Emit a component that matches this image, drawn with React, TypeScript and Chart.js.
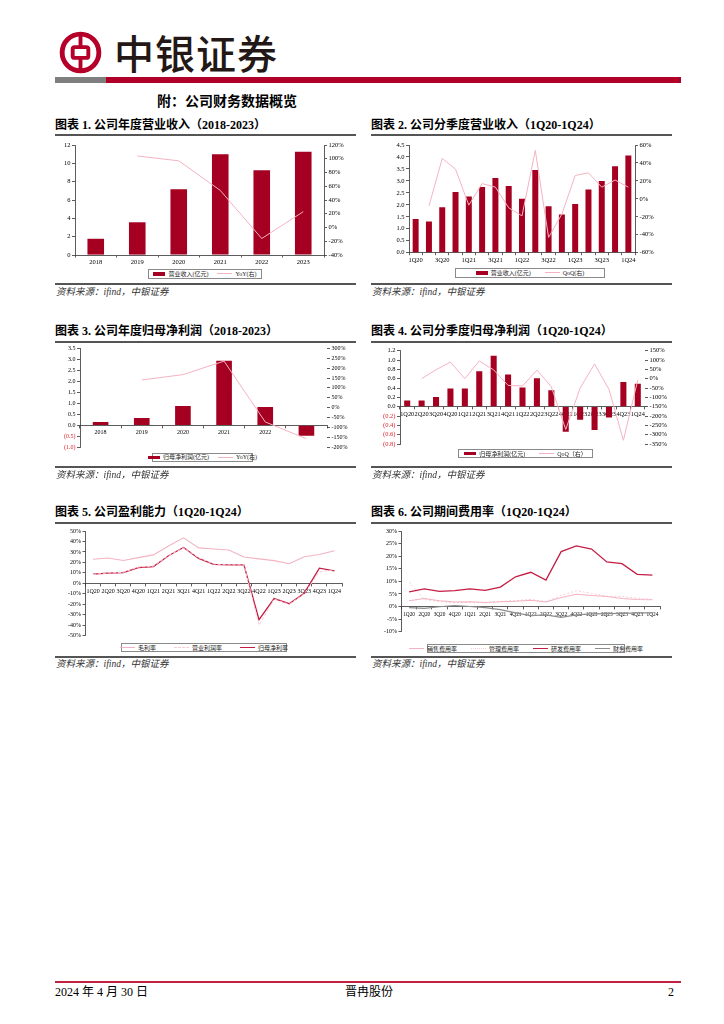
import React, { useEffect, useRef } from "react";
import { Chart, registerables } from "chart.js";

Chart.register(...registerables);

// ---------------- DATA ----------------
const years = ["2018", "2019", "2020", "2021", "2022", "2023"];
const quarters = ["1Q20", "2Q20", "3Q20", "4Q20", "1Q21", "2Q21", "3Q21", "4Q21", "1Q22", "2Q22", "3Q22", "4Q22", "1Q23", "2Q23", "3Q23", "4Q23", "1Q24"];

const annualRevenue = [1.77, 3.57, 7.16, 11.0, 9.25, 11.27];
const annualRevenueYoY = [null, 104, 97, 54, -16, 23];

const quarterlyRevenue = [1.41, 1.3, 1.9, 2.54, 2.35, 2.75, 3.12, 2.79, 2.25, 3.46, 1.94, 1.6, 2.04, 2.64, 3.0, 3.61, 4.06];
const quarterlyRevenueQoQ = [null, -8, 45, 33, -7, 17, 13, -10, -19, 54, -43, -17, 26, 29, 13, 21, 13];

const annualProfit = [0.15, 0.33, 0.88, 2.93, 0.83, -0.48];
const annualProfitYoY = [null, 140, 167, 235, -72, -157];

const quarterlyProfit = [0.13, 0.13, 0.21, 0.39, 0.39, 0.76, 1.09, 0.69, 0.41, 0.61, 0.35, -0.54, -0.28, -0.5, -0.23, 0.53, 0.49];
const quarterlyProfitQoQ = [null, 0, 48, 89, 0, 95, 47, -36, -39, 46, -43, -272, -50, 79, -57, -330, -7];

const grossMargin = [23, 24.2, 21.9, 24.6, 27.2, 35.7, 43.5, 33.9, 32.8, 31.9, 25.2, 23.4, 21.7, 18.8, 25.4, 27.5, 31.2];
const operatingMargin = [8.5, 10, 10.5, 15.5, 16.5, 26.5, 34, 24.5, 18.5, 17.5, 17.8, -40, -15, -20, -10, 11, 13];
const netMargin = [8.8, 9.8, 10.2, 15, 16, 26.4, 34.2, 23.8, 18.2, 17.6, 17.6, -34.7, -14.5, -19.4, -9.4, 14.5, 12];

const sellingExpRatio = [2.3, 3.2, 2.3, 1.8, 1.9, 1.6, 1.9, 2.1, 2.5, 1.8, 3.6, 4.9, 4.4, 4.0, 3.2, 2.8, 2.7];
const adminExpRatio = [9.7, 2.8, 2.0, 1.5, 1.7, 1.5, 2.0, 2.4, 2.8, 2.0, 4.4, 6.3, 5.2, 4.1, 4.0, 3.3, 2.8];
const rdExpRatio = [5.8, 7.0, 6.0, 6.3, 7.0, 6.4, 7.7, 11.8, 13.6, 10.5, 21.8, 24.1, 22.8, 17.7, 17.0, 12.8, 12.5];
const financeExpRatio = [-0.4, -0.7, -0.1, 0.4, 0.0, -0.4, -1.2, -2.5, -3.6, -3.3, -4.3, -3.3, -2.9, -2.8, -2.7, -2.5, -2.5];

// ---------------- STYLE ----------------
const NUM_FONT = "'Liberation Serif', 'Noto Sans CJK SC', serif";
const CJK_FONT = "'Liberation Serif', 'Noto Sans CJK SC', serif";
const BAR_RED = "#A50021";
const DARK_LINE = "#C41E45";
const PINK = "#F4B3C2";
const LIGHT_PINK = "#F6CCD5";
const GRAY_LINE = "#8E8E8E";
const AXIS = "#333333";
const NEG = "#E0202A";

type Fmt = (v: number) => string;

function catAxis(o: { height?: number; zero?: boolean; skipOdd?: boolean; size?: number; tick?: number; pad?: number }) {
  const ticks: any = {
    autoSkip: false,
    maxRotation: 0,
    minRotation: 0,
    padding: o.pad ?? 1,
    font: { family: NUM_FONT, size: o.size ?? 6.5 },
    color: "#000",
  };
  if (o.skipOdd) {
    ticks.callback = function (this: any, v: any, i: number) {
      return i % 2 === 0 ? this.getLabelForValue(v) : "";
    };
  }
  const axis: any = {
    type: "category",
    offset: true,
    position: o.zero ? { y: 0 } : "bottom",
    z: o.zero ? 1 : 0,
    border: { display: true, color: AXIS, width: 0.8 },
    grid: { display: true, drawOnChartArea: false, offset: true, tickLength: o.tick ?? 2.5, color: AXIS, lineWidth: 0.8 },
    ticks,
  };
  if (o.height != null) {
    const h = o.height;
    axis.afterFit = (s: any) => {
      s.height = h;
    };
  }
  return axis;
}

function valAxis(o: { side: "left" | "right"; min: number; max: number; step: number; width: number; fmt: Fmt; line?: boolean; negRed?: boolean; size?: number }) {
  const w = o.width;
  return {
    type: "linear",
    position: o.side,
    min: o.min,
    max: o.max,
    border: { display: o.line !== false, color: AXIS, width: 0.8 },
    grid: { display: true, drawOnChartArea: false, drawTicks: true, tickLength: 3, color: AXIS, lineWidth: 0.8 },
    ticks: {
      stepSize: o.step,
      autoSkip: false,
      padding: 1.5,
      font: { family: NUM_FONT, size: o.size ?? 6.5 },
      color: o.negRed ? (c: any) => (c.tick && c.tick.value < -1e-9 ? NEG : "#000") : "#000",
      callback: (v: any) => o.fmt(Number(v)),
    },
    afterFit: (s: any) => {
      s.width = w;
    },
  };
}

const pct: Fmt = (v) => Math.round(v) + "%";
const dec1: Fmt = (v) => v.toFixed(1);
const negParen: Fmt = (v) => (v < -1e-9 ? "(" + Math.abs(v).toFixed(1) + ")" : v.toFixed(1));

function base(padding: any) {
  return {
    responsive: true,
    maintainAspectRatio: false,
    animation: false,
    events: [],
    layout: { padding },
    plugins: { legend: { display: false }, tooltip: { enabled: false } },
  } as any;
}

function lineDs(data: any[], color: string, axis: string, extra: any = {}) {
  return {
    type: "line",
    data,
    yAxisID: axis,
    borderColor: color,
    backgroundColor: color,
    borderWidth: 1,
    pointRadius: 0,
    tension: 0,
    order: 0,
    ...extra,
  };
}

function barDs(data: number[], pctW: number) {
  return {
    type: "bar",
    data,
    yAxisID: "y",
    backgroundColor: BAR_RED,
    categoryPercentage: 1,
    barPercentage: pctW,
    order: 1,
  };
}

// ---------------- CONFIGS ----------------
const config1: any = {
  type: "bar",
  data: { labels: years, datasets: [lineDs(annualRevenueYoY, PINK, "y1"), barDs(annualRevenue, 0.4)] },
  options: {
    ...base({ top: 8, left: 0, right: 0, bottom: 0 }),
    scales: {
      x: catAxis({ height: 13 }),
      y: valAxis({ side: "left", min: 0, max: 12, step: 2, width: 20, fmt: (v) => String(Math.round(v)) }),
      y1: valAxis({ side: "right", min: -40, max: 120, step: 20, width: 31, fmt: pct }),
    },
  },
};

const config2: any = {
  type: "bar",
  data: { labels: quarters, datasets: [lineDs(quarterlyRevenueQoQ, PINK, "y1"), barDs(quarterlyRevenue, 0.45)] },
  options: {
    ...base({ top: 8, left: 0, right: 0, bottom: 0 }),
    scales: {
      x: catAxis({ height: 15.3, skipOdd: true, size: 6.5 }),
      y: valAxis({ side: "left", min: 0, max: 4.5, step: 0.5, width: 38, fmt: dec1 }),
      y1: valAxis({ side: "right", min: -60, max: 60, step: 20, width: 37, fmt: pct }),
    },
  },
};

const config3: any = {
  type: "bar",
  data: { labels: years, datasets: [lineDs(annualProfitYoY, PINK, "y1"), barDs(annualProfit, 0.38)] },
  options: {
    ...base({ top: 5.3, left: 0, right: 0, bottom: 5.7 }),
    scales: {
      x: catAxis({ zero: true, size: 6 }),
      y: valAxis({ side: "left", min: -1, max: 3.5, step: 0.5, width: 25, fmt: negParen, negRed: true, size: 6 }),
      y1: valAxis({ side: "right", min: -200, max: 300, step: 50, width: 28, fmt: pct, line: false, size: 6 }),
    },
  },
};

const config4: any = {
  type: "bar",
  data: { labels: quarters, datasets: [lineDs(quarterlyProfitQoQ, PINK, "y1"), barDs(quarterlyProfit, 0.42)] },
  options: {
    ...base({ top: 7.7, left: 0, right: 0, bottom: 8 }),
    scales: {
      x: catAxis({ zero: true, size: 6.3 }),
      y: valAxis({ side: "left", min: -0.8, max: 1.2, step: 0.2, width: 29, fmt: negParen, negRed: true }),
      y1: valAxis({ side: "right", min: -350, max: 150, step: 50, width: 27, fmt: pct, line: false }),
    },
  },
};

const config5: any = {
  type: "line",
  data: {
    labels: quarters,
    datasets: [
      lineDs(grossMargin, PINK, "y", { borderWidth: 1.1 }),
      lineDs(operatingMargin, LIGHT_PINK, "y", { borderWidth: 1, borderDash: [3, 2] }),
      lineDs(netMargin, DARK_LINE, "y", { borderWidth: 1.3 }),
    ],
  },
  options: {
    ...base({ top: 7, left: 0, right: 13, bottom: 6.3 }),
    scales: {
      x: catAxis({ zero: true, size: 6, pad: 2 }),
      y: valAxis({ side: "left", min: -50, max: 50, step: 10, width: 30.5, fmt: pct, size: 6 }),
    },
  },
};

const config6: any = {
  type: "line",
  data: {
    labels: quarters,
    datasets: [
      lineDs(sellingExpRatio, PINK, "y", { borderWidth: 1.1 }),
      lineDs(adminExpRatio, LIGHT_PINK, "y", { borderWidth: 1, borderDash: [2, 2] }),
      lineDs(rdExpRatio, DARK_LINE, "y", { borderWidth: 1.3 }),
      lineDs(financeExpRatio, GRAY_LINE, "y", { borderWidth: 1.2 }),
    ],
  },
  options: {
    ...base({ top: 7, left: 0, right: 12, bottom: 8.3 }),
    scales: {
      x: catAxis({ zero: true, size: 5.3, pad: 2 }),
      y: valAxis({ side: "left", min: -10, max: 30, step: 5, width: 30.5, fmt: pct, size: 6 }),
    },
  },
};

// ---------------- COMPONENTS ----------------
function ChartCanvas({ box, config }: { box: number[]; config: any }) {
  const ref = useRef<HTMLCanvasElement>(null);
  useEffect(() => {
    const chart = new Chart(ref.current as HTMLCanvasElement, config);
    return () => chart.destroy();
  }, []);
  return (
    <div style={{ position: "absolute", left: box[0], top: box[1], width: box[2], height: box[3] }}>
      <canvas ref={ref} />
    </div>
  );
}

type LegItem = { label: string; kind: "bar" | "line" | "dash" | "dot"; color: string };

function Legend({ box, items, gap = 9 }: { box: number[]; items: LegItem[]; gap?: number }) {
  return (
    <div
      style={{
        position: "absolute",
        left: box[0],
        top: box[1],
        width: box[2],
        height: box[3],
        border: "0.8px solid #8a8a8a",
        boxSizing: "border-box",
        display: "flex",
        alignItems: "center",
        justifyContent: "center",
        gap,
        fontFamily: CJK_FONT,
        fontSize: 6,
        lineHeight: 1,
        color: "#222",
        whiteSpace: "nowrap",
      }}
    >
      {items.map((it, i) => (
        <div key={i} style={{ display: "flex", alignItems: "center", gap: 3 }}>
          {it.kind === "bar" ? (
            <div style={{ width: 12, height: 3.5, background: it.color }} />
          ) : (
            <div
              style={{
                width: 15,
                height: 0,
                borderTop:
                  it.kind === "line"
                    ? `1px solid ${it.color}`
                    : it.kind === "dash"
                    ? `1px dashed ${it.color}`
                    : `1px dotted ${it.color}`,
              }}
            />
          )}
          <span>{it.label}</span>
        </div>
      ))}
    </div>
  );
}

function Txt({ x, y, size, children, bold, italic, color, center }: any) {
  return (
    <div
      style={{
        position: "absolute",
        left: center ? x - 150 : x,
        width: center ? 300 : undefined,
        textAlign: center ? "center" : "left",
        top: y - size * 0.6,
        fontSize: size,
        lineHeight: `${size * 1.2}px`,
        fontWeight: bold ? 700 : 400,
        fontStyle: italic ? "italic" : "normal",
        color: color || "#000",
        fontFamily: CJK_FONT,
        whiteSpace: "nowrap",
      }}
    >
      {children}
    </div>
  );
}

function HLine({ x, y, w, h = 1.5, color = "#555" }: any) {
  return <div style={{ position: "absolute", left: x, top: y, width: w, height: h, background: color }} />;
}

const SOURCE = "资料来源：ifind，中银证券";

export default function App() {
  return (
    <div style={{ position: "absolute", left: 0, top: 0, width: 724, height: 1024, background: "#fff", overflow: "hidden" }}>
      {/* header */}
      <svg style={{ position: "absolute", left: 59, top: 31 }} width="43" height="43" viewBox="0 0 44 44">
        <circle cx="22" cy="22" r="18.8" fill="none" stroke="#B5002A" strokeWidth="5" />
        <rect x="14" y="16.5" width="16" height="11" rx="2" fill="none" stroke="#B5002A" strokeWidth="4" />
        <line x1="22" y1="3" x2="22" y2="16.5" stroke="#B5002A" strokeWidth="4" />
        <line x1="22" y1="27.5" x2="22" y2="41" stroke="#B5002A" strokeWidth="4" />
      </svg>
      <div
        style={{
          position: "absolute",
          left: 114,
          top: 27,
          fontSize: 40,
          lineHeight: "50px",
          letterSpacing: 1,
          fontFamily: "'Noto Sans CJK SC', sans-serif",
          fontWeight: 500,
          color: "#231815",
        }}
      >
        中银证券
      </div>
      <HLine x={55} y={77} w={51} h={5.5} color="#7F7F7F" />
      <HLine x={106} y={77} w={575} h={5.5} color="#B0002A" />

      <Txt x={157} y={102} size={14} bold>
        附：公司财务数据概览
      </Txt>

      {/* row 1 */}
      <Txt x={55} y={125} size={12} bold>
        图表 1. 公司年度营业收入（2018-2023）
      </Txt>
      <Txt x={371} y={125} size={12} bold>
        图表 2. 公司分季度营业收入（1Q20-1Q24）
      </Txt>
      <HLine x={55} y={134} w={301} />
      <HLine x={371} y={134} w={301} />
      <ChartCanvas box={[55, 137, 300, 131]} config={config1} />
      <ChartCanvas box={[371, 137, 301, 131]} config={config2} />
      <Legend
        box={[148, 269, 114, 9.5]}
        items={[
          { label: "营业收入(亿元)", kind: "bar", color: BAR_RED },
          { label: "YoY(右)", kind: "line", color: PINK },
        ]}
      />
      <Legend
        box={[455, 268, 150, 9.5]}
        gap={14}
        items={[
          { label: "营业收入(亿元)", kind: "bar", color: BAR_RED },
          { label: "QoQ(右)", kind: "line", color: PINK },
        ]}
      />
      <HLine x={55} y={283} w={301} />
      <HLine x={371} y={283} w={301} />
      <Txt x={56} y={293} size={9.5} italic color="#333">
        {SOURCE}
      </Txt>
      <Txt x={372} y={293} size={9.5} italic color="#333">
        {SOURCE}
      </Txt>

      {/* row 2 */}
      <Txt x={55} y={331} size={12} bold>
        图表 3. 公司年度归母净利润（2018-2023）
      </Txt>
      <Txt x={371} y={331} size={12} bold>
        图表 4. 公司分季度归母净利润（1Q20-1Q24）
      </Txt>
      <HLine x={55} y={341} w={301} />
      <HLine x={371} y={341} w={301} />
      <ChartCanvas box={[55, 343, 300, 110]} config={config3} />
      <ChartCanvas box={[371, 343, 301, 109]} config={config4} />
      <Legend
        box={[152, 453, 101, 8.5]}
        items={[
          { label: "归母净利润(亿元)", kind: "bar", color: BAR_RED },
          { label: "YoY(右)", kind: "line", color: PINK },
        ]}
      />
      <Legend
        box={[458, 449, 135, 9]}
        gap={14}
        items={[
          { label: "归母净利润(亿元)", kind: "bar", color: BAR_RED },
          { label: "QoQ（右）", kind: "line", color: PINK },
        ]}
      />
      <HLine x={55} y={466} w={301} />
      <HLine x={371} y={466} w={301} />
      <Txt x={56} y={476} size={9.5} italic color="#333">
        {SOURCE}
      </Txt>
      <Txt x={372} y={476} size={9.5} italic color="#333">
        {SOURCE}
      </Txt>

      {/* row 3 */}
      <Txt x={55} y={512} size={12} bold>
        图表 5. 公司盈利能力（1Q20-1Q24）
      </Txt>
      <Txt x={371} y={512} size={12} bold>
        图表 6. 公司期间费用率（1Q20-1Q24）
      </Txt>
      <HLine x={55} y={522} w={301} />
      <HLine x={371} y={522} w={301} />
      <ChartCanvas box={[55, 524, 300, 118]} config={config5} />
      <ChartCanvas box={[371, 524, 301, 116]} config={config6} />
      <Legend
        box={[121, 643, 166, 9]}
        gap={18}
        items={[
          { label: "毛利率", kind: "line", color: PINK },
          { label: "营业利润率", kind: "dash", color: LIGHT_PINK },
          { label: "归母净利率", kind: "line", color: DARK_LINE },
        ]}
      />
      <Legend
        box={[427, 644, 198, 9]}
        gap={14}
        items={[
          { label: "销售费用率", kind: "line", color: PINK },
          { label: "管理费用率", kind: "dot", color: LIGHT_PINK },
          { label: "研发费用率", kind: "line", color: DARK_LINE },
          { label: "财务费用率", kind: "line", color: GRAY_LINE },
        ]}
      />
      <HLine x={55} y={656} w={301} />
      <HLine x={371} y={656} w={301} />
      <Txt x={56} y={665} size={9.5} italic color="#333">
        {SOURCE}
      </Txt>
      <Txt x={372} y={665} size={9.5} italic color="#333">
        {SOURCE}
      </Txt>

      {/* footer */}
      <HLine x={55} y={981} w={626} h={2} color="#C5203F" />
      <Txt x={55} y={992} size={12}>
        2024 年 4 月 30 日
      </Txt>
      <Txt x={369} y={992} size={12} center>
        晋冉股份
      </Txt>
      <Txt x={668} y={992} size={12}>
        2
      </Txt>
    </div>
  );
}
